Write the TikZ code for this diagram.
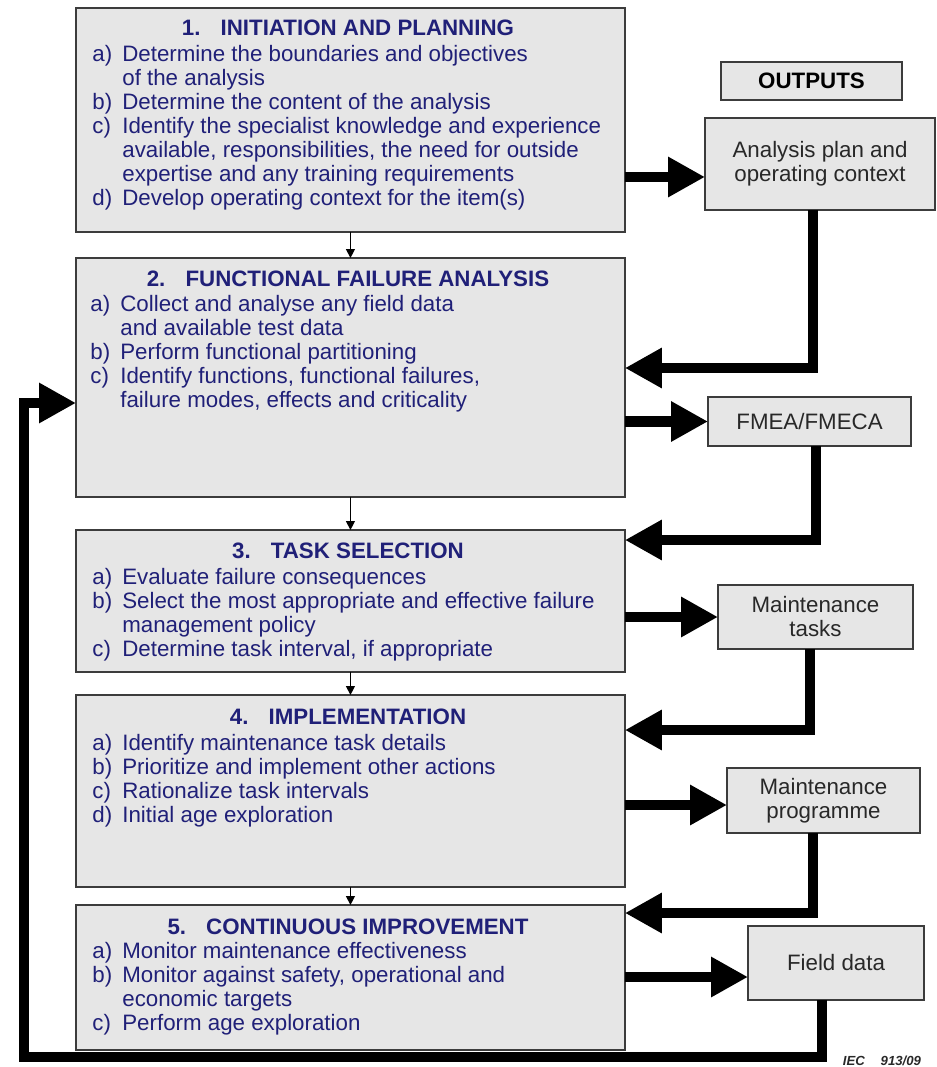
\documentclass[tikz,border=0pt]{standalone}
\usepackage{fontspec}
\setmainfont{Liberation Sans}
\usetikzlibrary{positioning,arrows.meta}
\definecolor{navy}{RGB}{32,32,120}
\definecolor{boxfill}{RGB}{230,230,230}
\definecolor{boxline}{RGB}{60,60,60}
\definecolor{outtext}{RGB}{40,40,40}
\newcommand{\itemlab}[1]{\makebox[0.6cm][l]{#1}}
\newcommand{\itemgap}{\hspace*{0.6cm}}
\newcommand{\bodysize}{\fontsize{12.7}{13.66}\selectfont}

\begin{document}
\begin{tikzpicture}[x=0.02cm, y=-0.02cm,
    stage/.style={draw=boxline, fill=boxfill, line width=0.8pt, anchor=north west,
      minimum width=10.98cm, inner sep=0pt, outer sep=0pt},
    outbox/.style={draw=boxline, fill=boxfill, line width=0.8pt, text=outtext,
      align=center, inner sep=0pt, outer sep=0pt, font=\bodysize},
    stagehead/.style={text=navy, font=\bodysize\bfseries},
    items/.style={anchor=north west, align=left, inner sep=0pt, text=navy, font=\bodysize},
    flow/.style={line width=0.21cm, -{Triangle[length=0.74cm, width=0.76cm]}},
    thinarrow/.style={line width=0.7pt, -{Triangle[length=5pt, width=5pt]}}]

    \useasboundingbox (0,0) rectangle (936,1067);

    % Stage boxes
    \node[stage, minimum height=4.48cm] (stage1) at (76,8) {};
    \node[stage, minimum height=4.78cm] (stage2) at (76,258) {};
    \node[stage, minimum height=2.84cm] (stage3) at (76,530) {};
    \node[stage, minimum height=3.84cm] (stage4) at (76,695) {};
    \node[stage, minimum height=2.90cm] (stage5) at (76,905) {};

    % Stage 1
    \node[stagehead] (title1) at (348,28) {1.\hspace{0.9em}INITIATION AND PLANNING};
    \node[items] (list1) at (92,45) {\itemlab{a)}Determine the boundaries and objectives\\
      \itemgap of the analysis\\
      \itemlab{b)}Determine the content of the analysis\\
      \itemlab{c)}Identify the specialist knowledge and experience\\
      \itemgap available, responsibilities, the need for outside\\
      \itemgap expertise and any training requirements\\
      \itemlab{d)}Develop operating context for the item(s)};

    % Stage 2
    \node[stagehead] (title2) at (348,279) {2.\hspace{0.9em}FUNCTIONAL FAILURE ANALYSIS};
    \node[items] (list2) at (90,295) {\itemlab{a)}Collect and analyse any field data\\
      \itemgap and available test data\\
      \itemlab{b)}Perform functional partitioning\\
      \itemlab{c)}Identify functions, functional failures,\\
      \itemgap failure modes, effects and criticality};

    % Stage 3
    \node[stagehead] (title3) at (348,551) {3.\hspace{0.9em}TASK SELECTION};
    \node[items] (list3) at (92,568) {\itemlab{a)}Evaluate failure consequences\\
      \itemlab{b)}Select the most appropriate and effective failure\\
      \itemgap management policy\\
      \itemlab{c)}Determine task interval, if appropriate};

    % Stage 4
    \node[stagehead] (title4) at (348,717) {4.\hspace{0.9em}IMPLEMENTATION};
    \node[items] (list4) at (92,734) {\itemlab{a)}Identify maintenance task details\\
      \itemlab{b)}Prioritize and implement other actions\\
      \itemlab{c)}Rationalize task intervals\\
      \itemlab{d)}Initial age exploration};

    % Stage 5
    \node[stagehead] (title5) at (348,927) {5.\hspace{0.9em}CONTINUOUS IMPROVEMENT};
    \node[items] (list5) at (92,942) {\itemlab{a)}Monitor maintenance effectiveness\\
      \itemlab{b)}Monitor against safety, operational and\\
      \itemgap economic targets\\
      \itemlab{c)}Perform age exploration};

    % Outputs
    \node[outbox, minimum width=3.62cm, minimum height=0.76cm, font=\bodysize\bfseries, text=black] (outhead) at (811.5,81) {OUTPUTS};
    \node[outbox, minimum width=4.6cm, minimum height=1.84cm] (out1) at (820,164) {Analysis plan and\\operating context};
    \node[outbox, minimum width=4.06cm, minimum height=0.98cm] (out2) at (809.5,421.5) {FMEA/FMECA};
    \node[outbox, minimum width=3.9cm, minimum height=1.28cm] (out3) at (815.5,617) {Maintenance\\tasks};
    \node[outbox, minimum width=3.86cm, minimum height=1.3cm] (out4) at (823.5,800.5) {Maintenance\\programme};
    \node[outbox, minimum width=3.52cm, minimum height=1.48cm] (out5) at (836,963) {Field data};

    % Stage to stage
    \draw[thinarrow] (stage1) -- (stage2);
    \draw[thinarrow] (stage2) -- (stage3);
    \draw[thinarrow] (stage3) -- (stage4);
    \draw[thinarrow] (stage4) -- (stage5);

    % Stage to output and back
    \draw[flow] (stage1.east |- 0,177) -- (out1.west |- 0,177);
    \draw[flow] (out1.south -| 813,0) |- (stage2.east |- 0,368);
    \draw[flow] (stage2.east |- out2.west) -- (out2.west);
    \draw[flow] (out2.south -| 816,0) |- (stage3.east |- 0,540);
    \draw[flow] (stage3.east |- out3.west) -- (out3.west);
    \draw[flow] (out3.south -| 810,0) |- (stage4.east |- 0,730);
    \draw[flow] (stage4.east |- 0,805) -- (out4.west |- 0,805);
    \draw[flow] (out4.south -| 813,0) |- (stage5.east |- 0,913);
    \draw[flow] (stage5.east |- 0,977) -- (out5.west |- 0,977);

    % Feedback loop
    \coordinate (loopcorner) at (24,1057);
    \draw[flow] (out5.south -| 822,0) |- (loopcorner) |- (stage2.west |- 0,403);

    \node[font=\fontsize{7.5}{8}\selectfont\bfseries\itshape, text=outtext] (iec) at (882,1061) {IEC\hspace{1.2em}913/09};

\end{tikzpicture}
\end{document}
